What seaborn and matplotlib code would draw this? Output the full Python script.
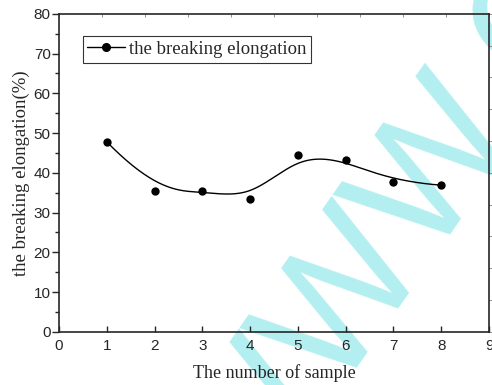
import numpy as np
import pandas as pd
import matplotlib
matplotlib.use('Agg')
import matplotlib.pyplot as plt
import seaborn as sns
from matplotlib.lines import Line2D
from matplotlib.ticker import MultipleLocator

sample = [1, 2, 3, 4, 5, 6, 7, 8]
elongation = [47.8, 35.5, 35.5, 33.4, 44.4, 43.3, 37.8, 36.9]


def bspline(px, py, n=400, k=3):
    """Clamped cubic B-spline using the data points as control points."""
    px = np.asarray(px, float)
    py = np.asarray(py, float)
    m = len(px)
    knots = np.concatenate([np.zeros(k), np.linspace(0, 1, m - k + 1), np.ones(k)])
    t = np.linspace(0, 1, n)
    t[-1] -= 1e-9

    def basis(i, d, t):
        if d == 0:
            return ((knots[i] <= t) & (t < knots[i + 1])).astype(float)
        out = np.zeros_like(t)
        den1 = knots[i + d] - knots[i]
        if den1 > 0:
            out += (t - knots[i]) / den1 * basis(i, d - 1, t)
        den2 = knots[i + d + 1] - knots[i + 1]
        if den2 > 0:
            out += (knots[i + d + 1] - t) / den2 * basis(i + 1, d - 1, t)
        return out

    B = np.array([basis(i, k, t) for i in range(m)])
    return B.T @ px, B.T @ py


sns.set_style('ticks')
plt.rcParams['font.family'] = ['Liberation Sans', 'DejaVu Sans']

df = pd.DataFrame({'sample': sample, 'elongation': elongation})
cx, cy = bspline(df['sample'], df['elongation'])
curve = pd.DataFrame({'x': cx, 'y': cy})

fig = plt.figure(figsize=(4.92, 3.85), dpi=100)
ax = fig.add_axes([0.12, 0.138, 0.874, 0.826])
ax.patch.set_alpha(0)

sns.lineplot(data=curve, x='x', y='y', sort=False, color='black', lw=1.0, ax=ax)
sns.scatterplot(data=df, x='sample', y='elongation', color='black', s=36,
                edgecolor='black', linewidth=0, ax=ax, zorder=3)

ax.set_xlim(0, 9)
ax.set_ylim(0, 80)
ax.xaxis.set_major_locator(MultipleLocator(1))
ax.yaxis.set_major_locator(MultipleLocator(10))
ax.yaxis.set_minor_locator(MultipleLocator(5))
ax.tick_params(axis='x', direction='in', length=4, width=1, labelsize=11, pad=5)
ax.tick_params(axis='y', which='major', direction='out', length=5, width=1, labelsize=11, pad=1)
ax.tick_params(axis='y', which='minor', direction='out', length=3, width=1)

for s in ax.spines.values():
    s.set_linewidth(1.2)
    s.set_visible(True)

# top / right axes with their own fine ticks
top = ax.secondary_xaxis('top')
top.set_xticks(np.linspace(0, 9, 11))
top.tick_params(direction='in', length=2, width=0.6, colors='gray', labeltop=False)
top.spines['top'].set_visible(False)
right = ax.secondary_yaxis('right')
right.set_yticks(np.linspace(0, 80, 11))
right.tick_params(direction='out', length=2, width=0.6, colors='gray', labelright=False)
right.spines['right'].set_visible(False)

ax.set_xlabel('The number of sample', family=['Liberation Serif'], fontsize=13, labelpad=8)
ax.set_ylabel('the breaking elongation(%)', family=['Liberation Serif'], fontsize=13.5, labelpad=3)

handle = Line2D([], [], color='black', lw=1.0, marker='o', markersize=5.5)
leg = ax.legend([handle], ['the breaking elongation'], loc='upper left',
                bbox_to_anchor=(0.055, 0.93), frameon=True, fancybox=False,
                prop={'family': 'Liberation Serif', 'size': 13.5},
                handlelength=2.0, handletextpad=0.2, borderpad=0.25,
                borderaxespad=0, numpoints=1)
leg.get_frame().set_edgecolor('black')
leg.get_frame().set_linewidth(0.8)

# watermark, drawn underneath the axes
fig.text(0.80, 0.385, 'WWW.C', rotation=55, color='#b3eff0',
         fontsize=124, family=['Liberation Sans'],
         ha='center', va='center', zorder=-1)

fig.savefig('out.png', dpi=100)
